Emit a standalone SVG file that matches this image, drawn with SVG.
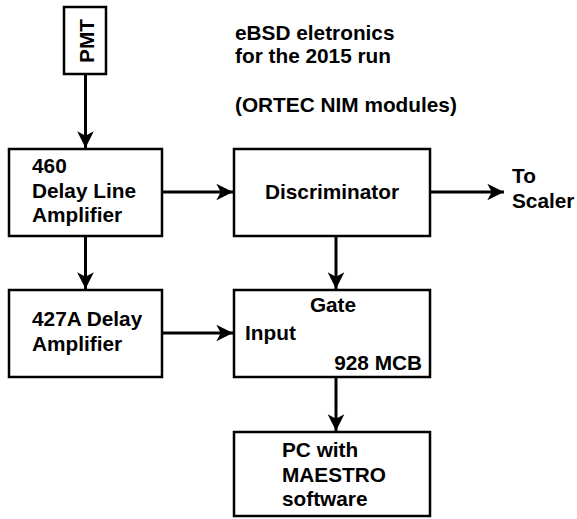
<svg xmlns="http://www.w3.org/2000/svg" width="577" height="519" viewBox="0 0 577 519">
<style>
.box{fill:#fff;stroke:#000;stroke-width:2.5}
.t{font-family:"Liberation Sans",Arial,sans-serif;font-weight:bold;font-size:20.8px;fill:#000}
.c{stroke:#000;stroke-width:3;fill:none;marker-end:url(#ah)}
</style>
<defs>
<marker id="ah" markerUnits="userSpaceOnUse" markerWidth="20" markerHeight="20" viewBox="-16 -9 18 18" refX="0" refY="0" orient="auto">
<path d="M0,0 L-15,-7.5 L-11,0 L-15,7.5 Z" fill="#000"/>
</marker>
</defs>
<rect width="577" height="519" fill="#fff"/>
<g id="connectors">
<line class="c" x1="85.5" y1="74" x2="85.5" y2="148"/>
<line class="c" x1="162" y1="192" x2="233" y2="192"/>
<line class="c" x1="430" y1="192" x2="504" y2="192"/>
<line class="c" x1="336" y1="237" x2="336" y2="289"/>
<line class="c" x1="85.5" y1="237" x2="85.5" y2="289"/>
<line class="c" x1="162" y1="333" x2="233" y2="333"/>
<line class="c" x1="336" y1="377" x2="336" y2="431"/>
</g>
<g id="title">
<text class="t" x="235" y="40">eBSD eletronics</text>
<text class="t" x="235" y="63">for the 2015 run</text>
<text class="t" x="235" y="112">(ORTEC NIM modules)</text>
</g>
<g id="pmt">
<rect class="box" x="64" y="7" width="42" height="67"/>
<text class="t" transform="translate(93.5,41) rotate(-90)" text-anchor="middle">PMT</text>
</g>
<g id="amp460">
<rect class="box" x="9" y="149" width="153" height="87"/>
<text class="t" x="32" y="173">460</text>
<text class="t" x="32" y="198">Delay Line</text>
<text class="t" x="32" y="222">Amplifier</text>
</g>
<g id="disc">
<rect class="box" x="234" y="149" width="196" height="87"/>
<text class="t" x="332" y="199" text-anchor="middle">Discriminator</text>
</g>
<g id="scaler">
<text class="t" x="512" y="183">To</text>
<text class="t" x="512" y="208">Scaler</text>
</g>
<g id="amp427">
<rect class="box" x="9" y="290" width="153" height="87"/>
<text class="t" x="32" y="326">427A Delay</text>
<text class="t" x="32" y="351">Amplifier</text>
</g>
<g id="mcb">
<rect class="box" x="234" y="290" width="196" height="87"/>
<text class="t" x="333" y="312" text-anchor="middle">Gate</text>
<text class="t" x="245" y="340">Input</text>
<text class="t" x="422" y="370" text-anchor="end">928 MCB</text>
</g>
<g id="pc">
<rect class="box" x="234" y="432" width="196" height="84"/>
<text class="t" x="282" y="457">PC with</text>
<text class="t" x="282" y="482">MAESTRO</text>
<text class="t" x="282" y="506">software</text>
</g>
</svg>
